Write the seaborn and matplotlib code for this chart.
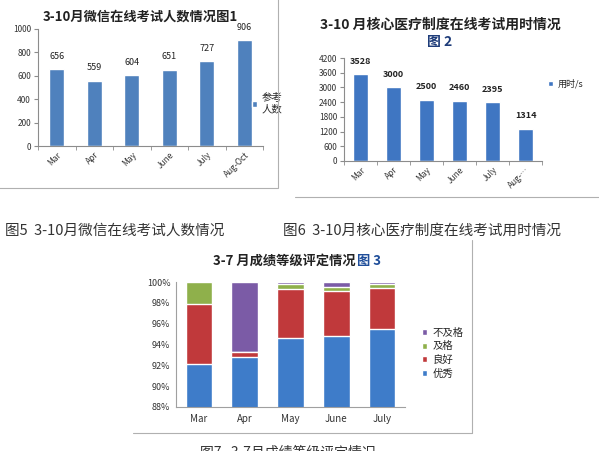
import numpy as np
import pandas as pd
import matplotlib
matplotlib.use("Agg")
import matplotlib.pyplot as plt
import seaborn as sns
from matplotlib.patches import Rectangle
from matplotlib.lines import Line2D
from matplotlib.ticker import FuncFormatter

sns.set_style("white")
plt.rcParams["font.family"] = ["Noto Sans CJK SC", "DejaVu Sans"]
plt.rcParams["axes.unicode_minus"] = False

############################################################
# Data
############################################################

months_1 = ["Mar", "Apr", "May", "June", "July", "Aug-Oct"]
exam_people = [656, 559, 604, 651, 727, 906]

months_2 = ["Mar", "Apr", "May", "June", "July", "Aug-…"]
exam_seconds = [3528, 3000, 2500, 2460, 2395, 1314]

months_3 = ["Mar", "Apr", "May", "June", "July"]
grade_excellent = [92.1, 92.8, 94.6, 94.8, 95.5]
grade_good = [5.8, 0.5, 4.7, 4.3, 3.9]
grade_pass = [2.1, 0.0, 0.5, 0.4, 0.45]
grade_fail = [0.0, 6.7, 0.2, 0.5, 0.15]

W, H = 599, 451


def box(x0, y0, x1, y1):
    # pixel box (top-left origin) -> figure fraction
    return [x0 / W, 1 - y1 / H, (x1 - x0) / W, (y1 - y0) / H]


def fx(x):
    return x / W


def fy(y):
    return 1 - y / H


def style_axis(ax, color="#8C8C8C"):
    for s in ["top", "right"]:
        ax.spines[s].set_visible(False)
    for s in ["left", "bottom"]:
        ax.spines[s].set_color(color)
        ax.spines[s].set_linewidth(0.8)
    ax.set_xlabel("")
    ax.set_ylabel("")


fig = plt.figure(figsize=(W / 100, H / 100), dpi=100)

############################################################
# Chart 1
############################################################

ax1 = fig.add_axes(box(38, 29, 263, 146))
sns.barplot(x=months_1, y=exam_people, color="#4F81BD", width=0.4,
            saturation=1, ax=ax1, label="参考\n人数")
style_axis(ax1)
ax1.set_ylim(0, 1000)
ax1.set_yticks(range(0, 1001, 200))
ax1.set_xlim(-0.5, 5.5)
ax1.tick_params(axis="y", labelsize=6, length=3, direction="out",
                left=True, color="#8C8C8C", pad=2, labelcolor="#333333")
ax1.set_xticks(np.arange(-0.5, 6, 1), minor=True)
ax1.tick_params(axis="x", which="minor", length=3, bottom=True, color="#8C8C8C")
ax1.tick_params(axis="x", which="major", length=0, labelsize=6, pad=3,
                labelcolor="#333333")
plt.setp(ax1.get_xticklabels(), rotation=45, ha="right", rotation_mode="anchor")
ax1.bar_label(ax1.containers[0], padding=6, fontsize=6.5, color="#222222")
ax1.legend(loc="center left", bbox_to_anchor=(0.93, 0.36), frameon=False,
           fontsize=7.5, handlelength=0.45, handleheight=0.45, handletextpad=0.4,
           borderpad=0)

fig.text(fx(140), fy(17), "3-10月微信在线考试人数情况图1", ha="center",
         va="center", fontsize=9.5, fontweight="bold", color="#222222")

fig.patches.append(Rectangle((fx(-2), fy(188)), fx(280), 188 / H + 0.01,
                             transform=fig.transFigure, fill=False,
                             edgecolor="#B0B0B0", linewidth=0.8))

############################################################
# Chart 2
############################################################

ax2 = fig.add_axes(box(344, 58, 542, 161))
sns.barplot(x=months_2, y=exam_seconds, color="#3F76C2", width=0.44,
            saturation=1, ax=ax2, label="用时/s")
style_axis(ax2)
ax2.set_ylim(0, 4200)
ax2.set_yticks(range(0, 4201, 600))
ax2.set_xlim(-0.5, 5.5)
ax2.tick_params(axis="y", labelsize=6, length=3, direction="out",
                left=True, color="#8C8C8C", pad=2, labelcolor="#333333")
ax2.set_xticks(np.arange(-0.5, 6, 1), minor=True)
ax2.tick_params(axis="x", which="minor", length=3, bottom=True, color="#8C8C8C")
ax2.tick_params(axis="x", which="major", length=0, labelsize=6, pad=3,
                labelcolor="#333333")
plt.setp(ax2.get_xticklabels(), rotation=45, ha="right", rotation_mode="anchor")
ax2.bar_label(ax2.containers[0], padding=6, fontsize=6.5, fontweight="bold",
              color="#222222")
ax2.legend(loc="center left", bbox_to_anchor=(1.01, 0.75), frameon=False,
           fontsize=6.5, handlelength=0.5, handleheight=0.5, handletextpad=0.5,
           borderpad=0)

fig.text(fx(440), fy(25), "3-10 月核心医疗制度在线考试用时情况", ha="center",
         va="center", fontsize=10, fontweight="bold", color="#222222")
fig.text(fx(440), fy(42), "图 2", ha="center", va="center", fontsize=10,
         fontweight="bold", color="#1F3D7A")

fig.lines.append(Line2D([fx(295), fx(599)], [fy(197), fy(197)],
                        transform=fig.transFigure, color="#B0B0B0", linewidth=0.8))

############################################################
# Captions
############################################################

fig.text(fx(5), fy(231), "图5  3-10月微信在线考试人数情况", ha="left",
         va="center", fontsize=10.5, color="#333333")
fig.text(fx(283), fy(231), "图6  3-10月核心医疗制度在线考试用时情况", ha="left",
         va="center", fontsize=10.5, color="#333333")

############################################################
# Chart 3 (stacked)
############################################################

ax3 = fig.add_axes(box(176, 282, 405, 407))

cum_excellent = np.array(grade_excellent)
cum_good = cum_excellent + np.array(grade_good)
cum_pass = cum_good + np.array(grade_pass)
cum_fail = cum_pass + np.array(grade_fail)

layers = [
    ("不及格", cum_fail, "#7B5BA6"),
    ("及格", cum_pass, "#8FB04B"),
    ("良好", cum_good, "#C0393B"),
    ("优秀", cum_excellent, "#3E7CC9"),
]
for name, vals, col in layers:
    sns.barplot(x=months_3, y=list(vals), color=col, width=0.58,
                saturation=1, ax=ax3, label=name)

style_axis(ax3, color="#A0A0A0")
ax3.set_ylim(88, 100)
ax3.set_yticks(range(88, 101, 2))
ax3.yaxis.set_major_formatter(FuncFormatter(lambda v, p: f"{v:.0f}%"))
ax3.set_xlim(-0.5, 4.5)
ax3.tick_params(axis="y", labelsize=6.5, length=0, pad=4, labelcolor="#333333")
ax3.tick_params(axis="x", labelsize=7, length=0, pad=5, labelcolor="#333333")
ax3.legend(loc="center left", bbox_to_anchor=(1.05, 0.43), frameon=False,
           fontsize=7.5, handlelength=0.55, handleheight=0.55, handletextpad=0.5,
           labelspacing=0.35, borderpad=0)

fig.text(fx(356), fy(261), "3-7 月成绩等级评定情况", ha="right", va="center",
         fontsize=9.5, fontweight="bold", color="#222222")
fig.text(fx(357), fy(261), "图 3", ha="left", va="center",
         fontsize=9.5, fontweight="bold", color="#1F4E9A")

fig.lines.append(Line2D([fx(133), fx(472)], [fy(433), fy(433)],
                        transform=fig.transFigure, color="#B0B0B0", linewidth=0.8))
fig.lines.append(Line2D([fx(472), fx(472)], [fy(240), fy(433)],
                        transform=fig.transFigure, color="#B0B0B0", linewidth=0.8))

fig.text(fx(200), fy(446), "图7   3-7月成绩等级评定情况", ha="left", va="top",
         fontsize=10, color="#333333")

fig.savefig("out.png", dpi=100)
